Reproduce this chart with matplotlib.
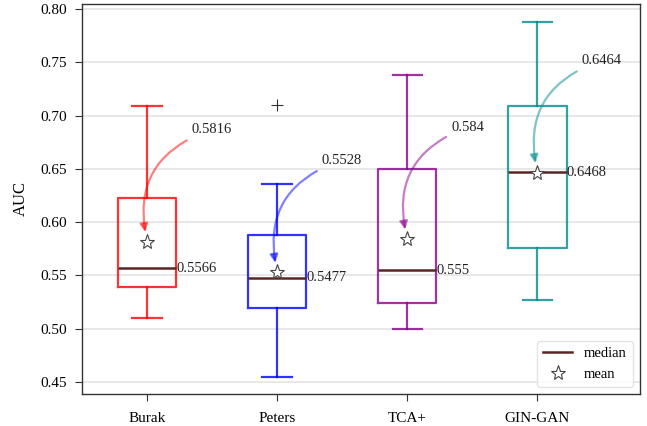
import matplotlib
matplotlib.use("Agg")
import matplotlib.pyplot as plt
from matplotlib.lines import Line2D

plt.rcParams['font.family'] = ['Liberation Serif', 'DejaVu Serif']

categories = ["Burak", "Peters", "TCA+", "GIN-GAN"]
whislo = [0.510, 0.455, 0.500, 0.527]
q1 = [0.5395, 0.519, 0.524, 0.576]
med = [0.5566, 0.5477, 0.555, 0.6468]
q3 = [0.623, 0.588, 0.650, 0.709]
whishi = [0.709, 0.6355, 0.738, 0.788]
means = [0.5816, 0.5528, 0.584, 0.6464]
fliers = [[], [0.7097], [], []]
colors = ["red", "blue", "darkmagenta", "darkcyan"]
yticks = [0.45, 0.50, 0.55, 0.60, 0.65, 0.70, 0.75, 0.80]

fig = plt.figure(figsize=(6.47, 4.26), dpi=100)
ax = fig.add_axes([82/647, 32/426, 558/647, 390/426])

ax.set_axisbelow(True)
ax.yaxis.grid(True, color="#e6e6e6", lw=1.3)

positions = list(range(1, len(categories) + 1))
for i, p in enumerate(positions):
    st = [dict(whislo=whislo[i], q1=q1[i], med=med[i], q3=q3[i],
               whishi=whishi[i], fliers=fliers[i], mean=means[i])]
    c = colors[i]
    ax.bxp(st, positions=[p], widths=0.45, showmeans=True,
           boxprops=dict(color=c, lw=1.6, alpha=0.8),
           whiskerprops=dict(color=c, lw=1.6, alpha=0.8),
           capprops=dict(color=c, lw=1.6, alpha=0.8),
           medianprops=dict(color="#5a2525", lw=1.8),
           meanprops=dict(marker="*", markerfacecolor="white",
                          markeredgecolor="#444444", markersize=11,
                          markeredgewidth=0.8, linestyle="none"),
           flierprops=dict(marker="+", markeredgecolor="#333333",
                           markersize=9, markeredgewidth=0.8))
    # median label
    ax.text(p + 0.225, med[i], str(med[i]), ha="left", va="center",
            fontsize=10.5, color="#222222")
    # mean annotation
    ax.annotate(str(means[i]), xy=(p, means[i]),
                xytext=(p + 0.34, means[i] + 0.105),
                ha="left", va="center", fontsize=10.5, color="#222222",
                arrowprops=dict(arrowstyle="-|>", color=c, alpha=0.5, lw=1.6,
                                connectionstyle="arc3,rad=0.45",
                                shrinkB=7, mutation_scale=12))

ax.set_xticks(positions)
ax.set_xticklabels(categories, fontsize=11)
ax.set_yticks(yticks)
ax.set_yticklabels([f"{v:.2f}" for v in yticks], fontsize=11)
ax.set_xlim(0.5, 4.79)
ax.set_ylim(0.4387, 0.8047)
ax.set_ylabel("AUC", fontsize=12, labelpad=8)
ax.tick_params(axis="y", direction="out", length=5, color="#333333", pad=6)
ax.tick_params(axis="x", direction="out", length=5, color="#333333", pad=8)
for s in ax.spines.values():
    s.set_color("#333333")
    s.set_linewidth(1.0)

handles = [Line2D([], [], color="#5a2525", lw=1.8),
           Line2D([], [], marker="*", markerfacecolor="white",
                  markeredgecolor="#444444", markersize=11,
                  markeredgewidth=0.8, linestyle="none")]
ax.legend(handles, ["median", "mean"], loc="lower right", fontsize=10.5,
          frameon=True, edgecolor="#dddddd", fancybox=True)

fig.savefig("out.png", dpi=100)
